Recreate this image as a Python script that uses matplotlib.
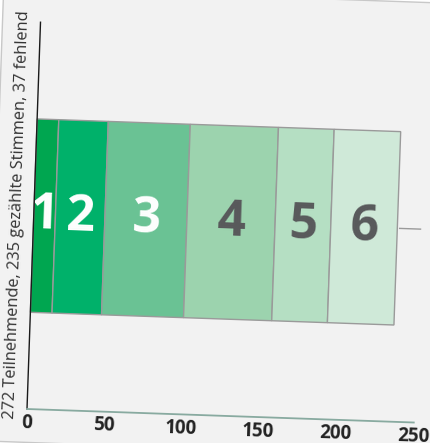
#!/usr/bin/env python3

import matplotlib as mpl
mpl.use("Agg")
mpl.rcParams.update({
    "font.family": ["Open Sans", "DejaVu Sans"],
})

import matplotlib.pyplot as plt
from matplotlib.patches import Rectangle
from matplotlib.transforms import Affine2D


grades = ["1", "2", "3", "4", "5", "6"]
votes = [14, 32, 53, 57, 36, 43]
grade_colors = ["#00a650", "#00b16a", "#6ac294", "#9cd3ae", "#b5dfc3", "#cfe9d8"]
grade_text_colors = ["white", "white", "white", "#58595b", "#58595b", "#58595b"]
x_ticks = [0, 50, 100, 150, 200, 250]
y_label = "272 Teilnehmende, 235 gezählte Stimmen, 37 fehlend"

W, H, DPI = 431, 443, 100
ORIGIN = (27, 34)      # axes lower-left corner, display pixels
SIDE = 387             # axes width/height, pixels
TILT = -2.0            # the whole card is turned slightly clockwise


def main():
    fig = plt.figure(figsize=(W / DPI, H / DPI), dpi=DPI, facecolor="white")
    ax = fig.add_axes([ORIGIN[0] / W, ORIGIN[1] / H, SIDE / W, SIDE / H])
    ax.axis("off")
    ax.set_xlim(0, 250)
    ax.set_ylim(-0.5, 0.5)

    rot = Affine2D().rotate_deg_around(ORIGIN[0], ORIGIN[1], TILT)
    data_rot = ax.transData + rot

    # tilted card behind everything
    card = Rectangle((-11, 0.6), 470, 453.6, transform=rot,
                     facecolor="#f2f2f2", edgecolor="#c8c8c8",
                     linewidth=1, zorder=0)
    fig.add_artist(card)

    lefts = [sum(votes[:i]) for i in range(len(votes))]
    ax.barh(0, votes, left=lefts, height=0.5, color=grade_colors,
            edgecolor="#9a9a9a", linewidth=1, transform=data_rot,
            clip_on=False, zorder=2)

    for grade, left, width, tc in zip(grades, lefts, votes, grade_text_colors):
        ax.text(left + width / 2, 0, grade, transform=data_rot,
                rotation=TILT, rotation_mode="anchor",
                ha="center", va="center", fontsize=36, fontweight="bold",
                color=tc, clip_on=False, zorder=3)

    # axis lines
    ax.plot([0, 0], [-0.5, 0.5], color="#1a1a1a", linewidth=1,
            transform=data_rot, clip_on=False, zorder=4)
    ax.plot([0, 250], [-0.5, -0.5], color="#88aaa0", linewidth=1.3,
            transform=data_rot, clip_on=False, zorder=4)
    ax.plot([236.5, 250], [0, 0], color="#9a9a9a", linewidth=1,
            transform=data_rot, clip_on=False, zorder=4)

    below = ax.transData + Affine2D().translate(0, -14) + rot
    for t in x_ticks:
        ax.text(t, -0.5, str(t), transform=below, rotation=TILT,
                rotation_mode="anchor", ha="center", va="center",
                fontsize=13.5, fontweight="bold", color="#222222",
                clip_on=False)

    left_of = ax.transAxes + Affine2D().translate(-17, 0) + rot
    ax.text(0, 0.5, y_label, transform=left_of, rotation=90 + TILT,
            rotation_mode="anchor", ha="center", va="center",
            fontsize=11.8, color="#333333", clip_on=False)

    fig.savefig("out.png", dpi=DPI, facecolor="white")


if __name__ == "__main__":
    main()
